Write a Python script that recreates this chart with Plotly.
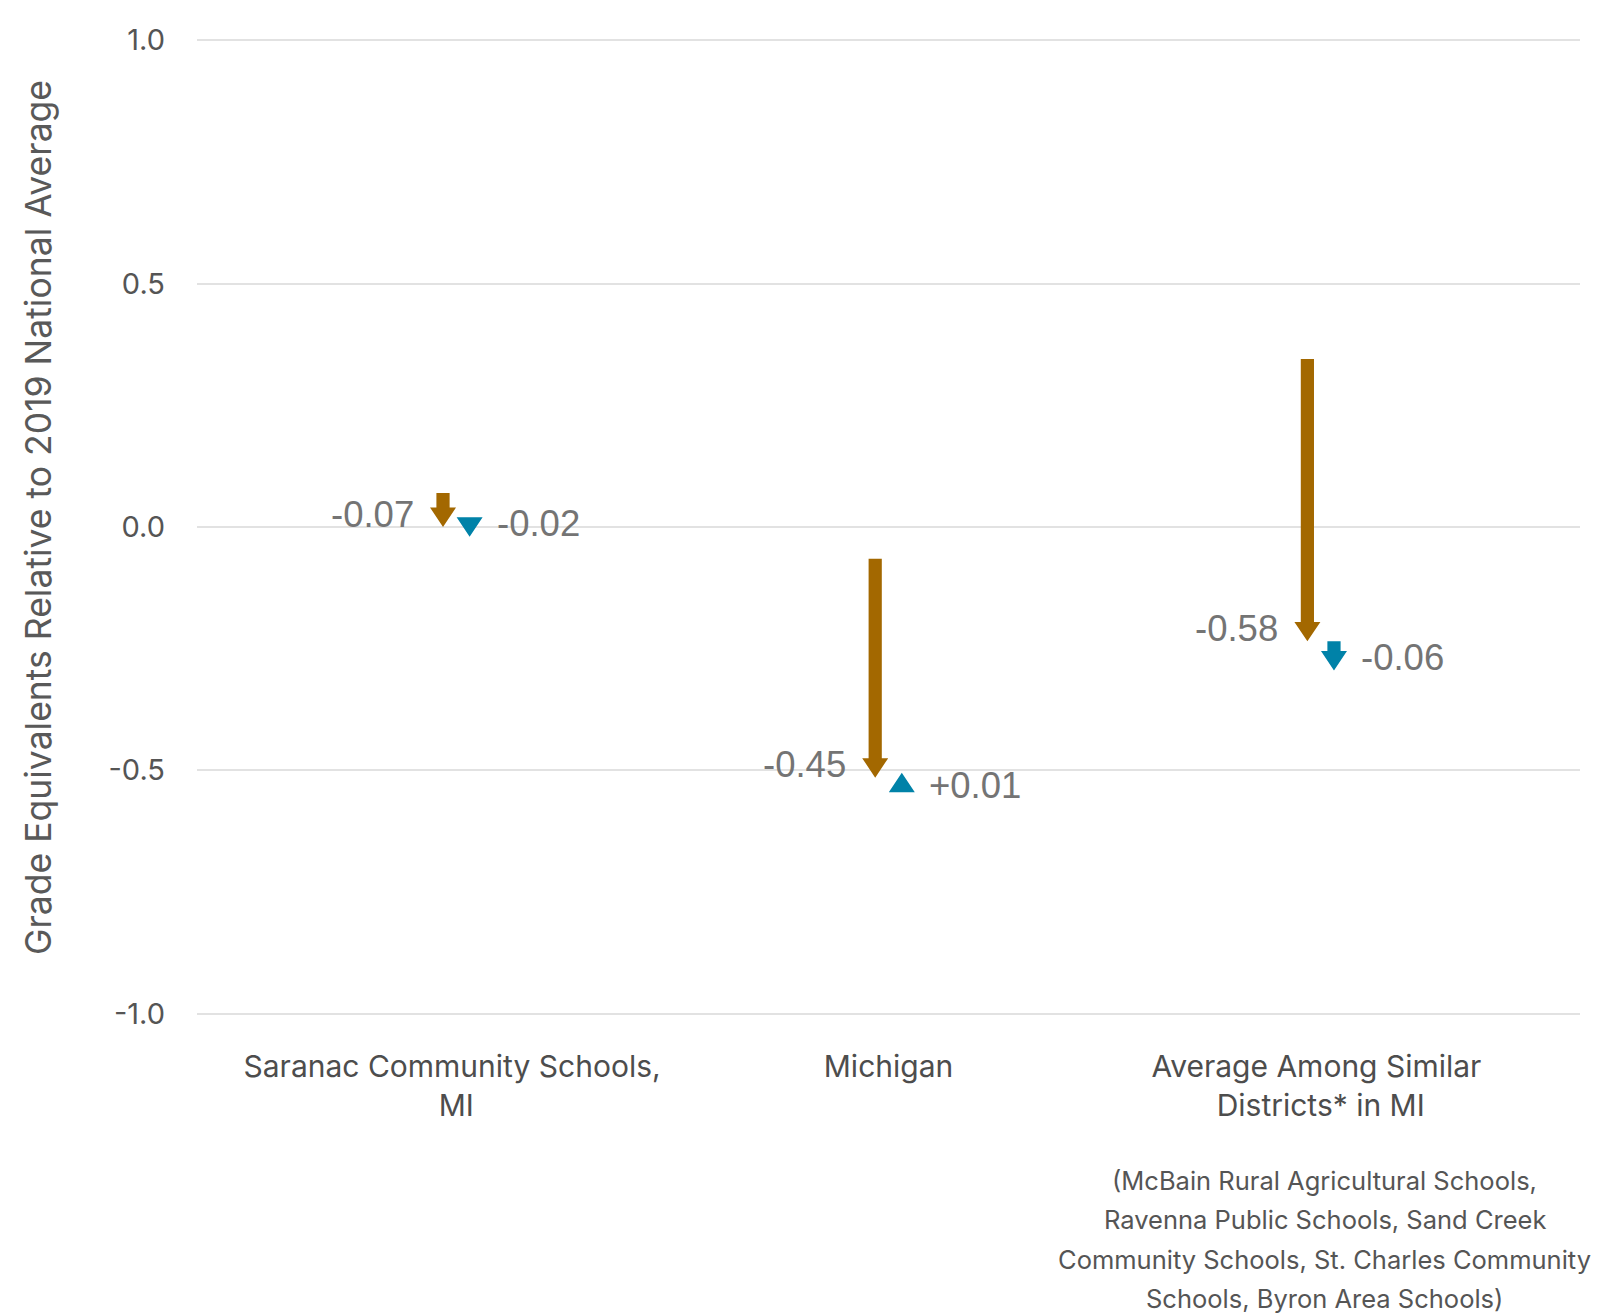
import plotly.graph_objects as go

# ---- data ----
categories = ["Saranac Community Schools,&nbsp;<br>MI", "Michigan", "Average Among Similar&nbsp;<br>Districts* in MI"]
start_2019 = [0.07, -0.065, 0.345]          # starting level (2019)
change_2019_2022 = [-0.07, -0.45, -0.58]     # brown arrows
change_2022_2023 = [-0.02, 0.01, -0.06]      # blue arrows
tick_vals = [-1.0, -0.5, 0.0, 0.5, 1.0]
tick_text = ["-1.0", "-0.5", "0.0", "0.5", "1.0"]
y_title = "Grade Equivalents Relative to 2019 National Average"
footnote_lines = [
    "(McBain Rural Agricultural Schools,",
    "Ravenna Public Schools, Sand Creek",
    "Community Schools, St. Charles Community",
    "Schools, Byron Area Schools)",
]

# ---- layout geometry (body margin removed via post_script) ----
W, H = 1600, 1315
ML, MR, MT, MB = 197, 20, 15.65, 276.7
XR = [-0.6, 2.6]
YR = [-1.05, 1.05]
px_x = (W - ML - MR) / (XR[1] - XR[0])
px_y = (H - MT - MB) / (YR[1] - YR[0])

BROWN = "#A36800"
BLUE = "#0082A8"
shaft_half = 6.6 / px_x
head_half = 13.0 / px_x
head_len = 19.5 / px_y
offset = 13.3 / px_x


def arrow_poly(xc, y0, y1):
    d = 1 if y1 > y0 else -1
    neck = y1 - d * head_len
    if (neck - y0) * d > 0:
        xs = [xc - shaft_half, xc + shaft_half, xc + shaft_half, xc + head_half, xc,
              xc - head_half, xc - shaft_half, xc - shaft_half]
        ys = [y0, y0, neck, neck, y1, neck, neck, y0]
    else:
        xs = [xc - head_half, xc + head_half, xc, xc - head_half]
        ys = [neck, neck, y1, neck]
    return xs, ys


fig = go.Figure()

mid_2022 = [s + c for s, c in zip(start_2019, change_2019_2022)]
end_2023 = [m + c for m, c in zip(mid_2022, change_2022_2023)]
series = [
    ("2019 to 2022", BROWN, -offset, start_2019, mid_2022, change_2019_2022),
    ("2022 to 2023", BLUE, offset, mid_2022, end_2023, change_2022_2023),
]

annotations = []
for name, color, off, y0s, y1s, chs in series:
    X, Y = [], []
    for i in range(len(categories)):
        xs, ys = arrow_poly(i + off, y0s[i], y1s[i])
        X += xs + [None]
        Y += ys + [None]
        sign = 1 if chs[i] > 0 else -1
        label = f"{chs[i]:+.2f}" if chs[i] > 0 else f"{chs[i]:.2f}"
        annotations.append(dict(
            x=i + off, y=y1s[i], xref="x", yref="y", text=label, showarrow=False,
            xanchor="right" if off < 0 else "left", yanchor="middle",
            xshift=-27 if off < 0 else 25, yshift=-sign * 13,
            font=dict(family="Liberation Sans, Arial, sans-serif", size=36.5, color="#747474"),
        ))
    fig.add_trace(go.Scatter(x=X, y=Y, mode="lines", fill="toself", fillcolor=color,
                             line=dict(width=0, color=color), name=name,
                             hoverinfo="skip", showlegend=False))

for k, line in enumerate(footnote_lines):
    annotations.append(dict(
        x=2, y=0, xref="x", yref="paper", text=line, showarrow=False,
        xanchor="center", yanchor="middle", yshift=-142 - 39.5 * k, xshift=4,
        font=dict(family="Inter, sans-serif", size=25.5, color="#555555"),
    ))

# y-axis title
annotations.append(dict(
    x=0, y=0.5, xref="paper", yref="paper", text=y_title, showarrow=False,
    textangle=-90, xanchor="center", yanchor="middle", xshift=-159, yshift=9,
    font=dict(family="Inter, sans-serif", size=35.5, color="#595959"),
))

fig.update_layout(
    width=W, height=H,
    margin=dict(l=ML, r=MR, t=MT, b=MB, autoexpand=False),
    paper_bgcolor="white", plot_bgcolor="white",
    showlegend=False,
    annotations=annotations,
    font=dict(family="Inter, sans-serif", color="#555555"),
    xaxis=dict(range=XR, tickmode="array", tickvals=[0, 1, 2], ticktext=categories,
               showgrid=False, zeroline=False, showline=False, ticks="",
               tickfont=dict(family="Inter, sans-serif", size=30, color="#4d4d4d"),
               ticklabelstandoff=8, fixedrange=True),
    yaxis=dict(range=YR, tickmode="array", tickvals=tick_vals, ticktext=tick_text,
               showgrid=True, gridcolor="#e2e2e2", gridwidth=2,
               zeroline=False, showline=False, ticks="",
               tickfont=dict(family="Inter, sans-serif", size=29, color="#555555"),
               ticklabelstandoff=31, fixedrange=True),
)

fig.write_html(
    "out.html",
    config={"displayModeBar": False},
    post_script="document.body.style.margin='0';document.body.style.overflow='hidden';",
)
